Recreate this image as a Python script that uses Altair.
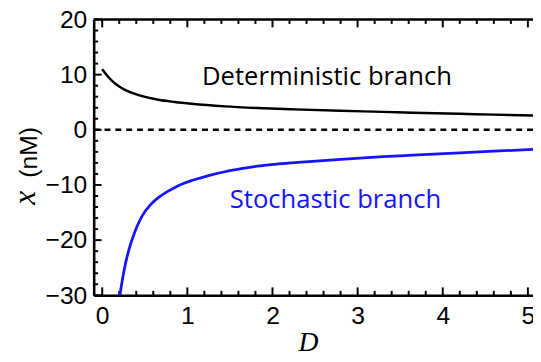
import altair as alt
import pandas as pd

# ---- data ----
det_D = [0.0, 0.06, 0.125, 0.2, 0.28, 0.37, 0.47, 0.66, 0.85, 1.05, 1.44, 1.82, 2.26, 2.8, 3.3, 3.65, 4.2, 4.6, 5.06]
det_x = [11.0, 9.8, 8.75, 7.85, 7.15, 6.6, 6.1, 5.45, 5.05, 4.72, 4.25, 3.95, 3.7, 3.45, 3.25, 3.1, 2.9, 2.75, 2.6]

sto_D = [0.205, 0.24, 0.28, 0.32, 0.36, 0.41, 0.47, 0.56, 0.66, 0.76, 0.86, 0.96, 1.05, 1.25, 1.44,
         1.65, 1.82, 2.03, 2.26, 2.8, 3.3, 3.65, 4.2, 4.6, 5.06]
sto_x = [-30.3, -26.9, -23.8, -21.4, -19.5, -17.5, -15.6, -13.7, -12.3, -11.25, -10.4, -9.7, -9.2, -8.3, -7.6,
         -7.0, -6.6, -6.25, -5.95, -5.35, -4.88, -4.6, -4.17, -3.87, -3.55]

x_major = [0, 1, 2, 3, 4, 5]
x_minor = [0.2, 0.4, 0.6, 0.8, 1.2, 1.4, 1.6, 1.8, 2.2, 2.4, 2.6, 2.8,
           3.2, 3.4, 3.6, 3.8, 4.2, 4.4, 4.6, 4.8]
y_major = [-30, -20, -10, 0, 10, 20]
y_minor = [-28, -26, -24, -22, -18, -16, -14, -12, -8, -6, -4, -2,
           2, 4, 6, 8, 12, 14, 16, 18]

label_text = ["Deterministic branch", "Stochastic branch"]
label_D = [2.64, 2.74]
label_x = [9.6, -12.7]
label_color = ["black", "#1414ff"]

zero_level = [0]

W, H = 446, 280
BLUE = "#1414ff"

det = pd.DataFrame({"D": det_D, "x": det_x})
sto = pd.DataFrame({"D": sto_D, "x": sto_x})
xmaj = pd.DataFrame({"D": x_major})
xmin = pd.DataFrame({"D": x_minor})
ymaj = pd.DataFrame({"x": y_major})
ymin = pd.DataFrame({"x": y_minor})
labels = pd.DataFrame({"D": label_D, "x": label_x, "t": label_text, "c": label_color})
zero = pd.DataFrame({"x": zero_level})

xscale = alt.Scale(domain=[-0.1, 5.06], nice=False, zero=False)
yscale = alt.Scale(domain=[-30, 20], nice=False, zero=False)

xaxis = alt.Axis(values=x_major, format="d", title=None, ticks=False, tickSize=0, grid=False,
                 domainColor="black", domainWidth=2.6, labelFont="Liberation Sans",
                 labelFontSize=25, labelColor="black", labelPadding=9,
                 labelFlush=False, labelOverlap=False)
yaxis = alt.Axis(values=y_major, format="d", title=None, ticks=False, tickSize=0, grid=False,
                 domainColor="black", domainWidth=2.6, labelFont="Liberation Sans",
                 labelFontSize=25, labelColor="black", labelPadding=7,
                 labelFlush=False, labelOverlap=False)

X = alt.X("D:Q", scale=xscale, axis=xaxis)
Y = alt.Y("x:Q", scale=yscale, axis=yaxis)

det_line = alt.Chart(det).mark_line(color="black", strokeWidth=2.5, clip=True,
                                    interpolate="monotone").encode(x=X, y=Y)
sto_line = alt.Chart(sto).mark_line(color=BLUE, strokeWidth=2.8, clip=True,
                                    interpolate="monotone").encode(x=X, y=Y)

zero_rule = alt.Chart(zero).mark_rule(color="black", strokeWidth=2.4, strokeDash=[6, 5]).encode(
    y=Y, x=alt.value(0), x2=alt.value(W))

top_rule = alt.Chart(zero).mark_rule(color="black", strokeWidth=2.6).encode(
    y=alt.value(0), x=alt.value(0), x2=alt.value(W))

tick_style = dict(color="black", strokeWidth=2)
xb_maj = alt.Chart(xmaj).mark_rule(**tick_style).encode(x=X, y=alt.value(H), y2=alt.value(H - 8))
xb_min = alt.Chart(xmin).mark_rule(**tick_style).encode(x=X, y=alt.value(H), y2=alt.value(H - 4.5))
xt_maj = alt.Chart(xmaj).mark_rule(**tick_style).encode(x=X, y=alt.value(0), y2=alt.value(8))
xt_min = alt.Chart(xmin).mark_rule(**tick_style).encode(x=X, y=alt.value(0), y2=alt.value(4.5))
yl_maj = alt.Chart(ymaj).mark_rule(**tick_style).encode(y=Y, x=alt.value(0), x2=alt.value(8))
yl_min = alt.Chart(ymin).mark_rule(**tick_style).encode(y=Y, x=alt.value(0), x2=alt.value(4.5))

ann = alt.Chart(labels).mark_text(font="Open Sans", fontSize=26, align="center", baseline="middle").encode(
    x=X, y=Y, text="t:N", color=alt.Color("c:N", scale=None))

title_df = pd.DataFrame({"t": ["D"]})
xtitle = alt.Chart(title_df).mark_text(font="Liberation Serif", fontStyle="italic", fontSize=28,
                                       align="center", baseline="alphabetic", color="black").encode(
    text="t:N", x=alt.value(218), y=alt.value(337))

ytitle_x = alt.Chart(pd.DataFrame({"t": ["x"]})).mark_text(
    font="Liberation Serif", fontStyle="italic", fontSize=32, angle=270,
    align="center", baseline="alphabetic", color="black").encode(
    text="t:N", x=alt.value(-60), y=alt.value(181))
ytitle_u = alt.Chart(pd.DataFrame({"t": ["(nM)"]})).mark_text(
    font="Liberation Sans", fontSize=25, angle=270,
    align="center", baseline="alphabetic", color="black").encode(
    text="t:N", x=alt.value(-58), y=alt.value(135))

chart = alt.layer(
    zero_rule, top_rule, xb_maj, xb_min, xt_maj, xt_min, yl_maj, yl_min,
    det_line, sto_line, ann, xtitle, ytitle_x, ytitle_u
).properties(
    width=W, height=H,
    padding={"left": 87, "top": 9, "right": 0, "bottom": 60},
    autosize=alt.AutoSizeParams(type="none"),
    background="white",
).configure_view(stroke=None)

chart.save("out.html", embed_options={"renderer": "svg", "actions": False})
